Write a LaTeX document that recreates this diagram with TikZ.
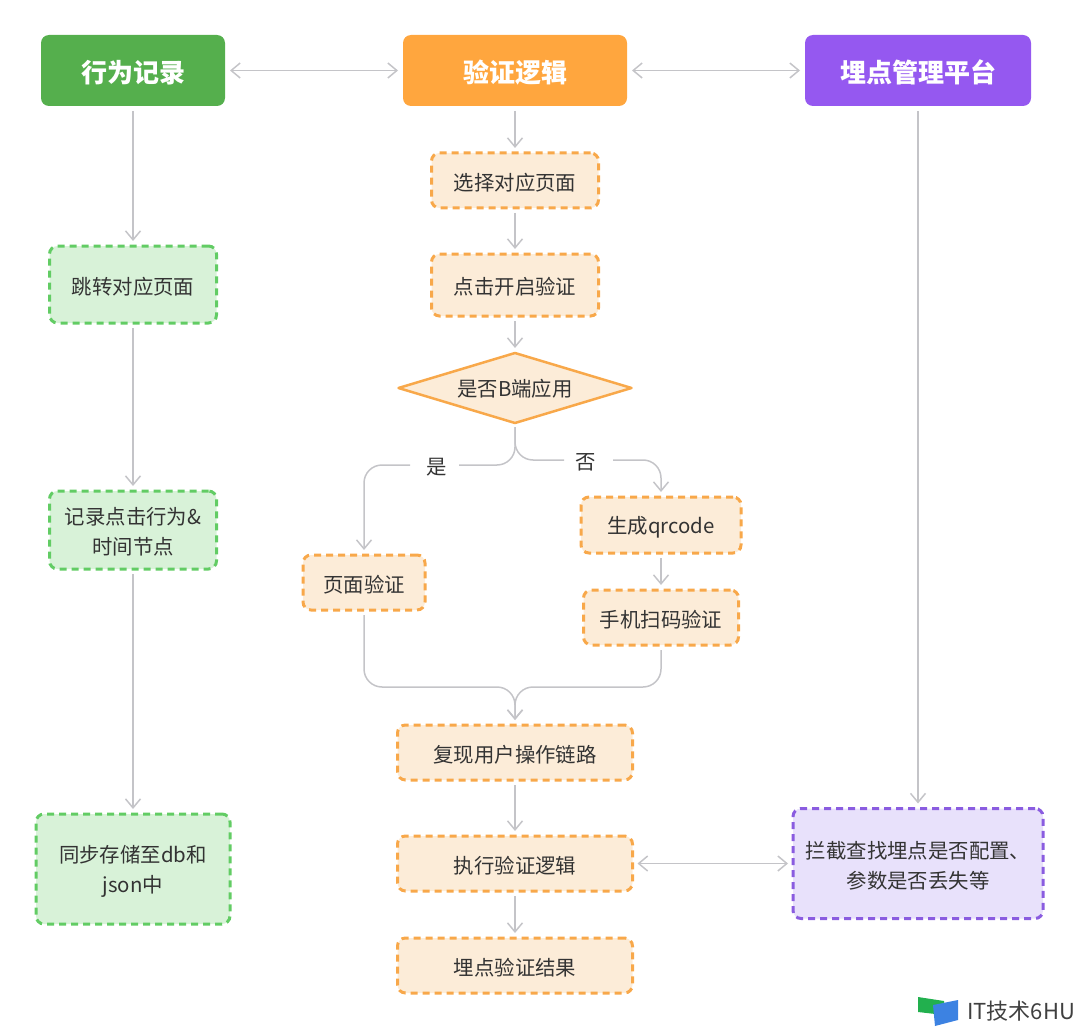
\documentclass[tikz,border=0pt]{standalone}
\usepackage{fontspec}
\setmainfont{Noto Sans CJK SC}
\usetikzlibrary{arrows.meta,shapes.geometric}
\definecolor{linegray}{HTML}{C4C4C8}
\definecolor{txtgray}{HTML}{333333}
\definecolor{headgreen}{HTML}{55AF4D}
\definecolor{headorange}{HTML}{FFA63E}
\definecolor{headpurple}{HTML}{9558F0}
\definecolor{greenline}{HTML}{62CC64}
\definecolor{greenfill}{HTML}{D8F2D8}
\definecolor{orangeline}{HTML}{F8A84A}
\definecolor{orangefill}{HTML}{FCECD8}
\definecolor{purpleline}{HTML}{8A5CE0}
\definecolor{purplefill}{HTML}{E8E1FB}
\definecolor{logogreen}{HTML}{22B04E}
\definecolor{logoblue}{HTML}{3C82E2}
\tikzset{
    headbox/.style={rectangle, rounded corners=8pt, draw=none, inner sep=0pt, outer sep=0pt,
        minimum height=71pt, text=white, text height=27pt, font=\fontsize{26}{30}\selectfont\bfseries},
    stepbox/.style={rectangle, rounded corners=8pt, line width=3pt, dash pattern=on 7pt off 5pt,
        inner sep=0pt, outer sep=0pt, text=txtgray, align=center, text height=21pt,
        font=\fontsize{20.4}{30}\selectfont},
    twolines/.style={text height=51pt},
    greenbox/.style={stepbox, draw=greenline, fill=greenfill},
    orangebox/.style={stepbox, draw=orangeline, fill=orangefill},
    purplebox/.style={stepbox, draw=purpleline, fill=purplefill},
    tipped/.style={-{Straight Barb[length=9pt,width=15pt,line width=1.5pt]}},
    link/.style={draw=linegray, line width=1.5pt, tipped, shorten <=5pt, shorten >=5pt},
    linkboth/.style={link, {Straight Barb[length=9pt,width=15pt,line width=1.5pt]}-{Straight Barb[length=9pt,width=15pt,line width=1.5pt]}},
    wire/.style={draw=linegray, line width=1.5pt, rounded corners=18pt},
    choice/.style={inner sep=0pt, outer sep=0pt, minimum width=44pt, minimum height=24pt, text=txtgray,
        text height=21pt, font=\fontsize{20.4}{24}\selectfont},
}
\begin{document}
\begin{tikzpicture}[x=1pt,y=-1pt]
\useasboundingbox (0,0) rectangle (1080,1030);

% Column heads
\node[headbox, fill=headgreen, minimum width=184pt] (act) at (133,70.5) {行为记录};
\node[headbox, fill=headorange, minimum width=224pt] (verify) at (515,70.5) {验证逻辑};
\node[headbox, fill=headpurple, minimum width=226pt] (track) at (918,70.5) {埋点管理平台};

% Left column
\node[greenbox, minimum width=167pt, minimum height=77pt] (jump) at (133,284.5) {跳转对应页面};
\node[greenbox, twolines, minimum width=167pt, minimum height=78pt] (record) at (133,530) {记录点击行为\&\\时间节点};
\node[greenbox, twolines, minimum width=194pt, minimum height=110pt] (store) at (133,869) {同步存储至db和\\json中};

% Middle column
\node[orangebox, minimum width=167pt, minimum height=55pt] (pick) at (515,180.5) {选择对应页面};
\node[orangebox, minimum width=167pt, minimum height=62pt] (start) at (515,285) {点击开启验证};
\node[diamond, draw=orangeline, fill=orangefill, line width=2.5pt, line join=round, aspect=3.26,
    inner sep=0pt, outer sep=0pt, minimum width=233pt, minimum height=70pt, text=txtgray,
    text height=19pt, font=\fontsize{20.4}{24}\selectfont] (isb) at (515,388) {是否B端应用};
\node[orangebox, minimum width=122pt, minimum height=55pt] (pageck) at (364,582.5) {页面验证};
\node[orangebox, minimum width=160pt, minimum height=56pt] (qr) at (661,525) {生成qrcode};
\node[orangebox, minimum width=155pt, minimum height=55pt] (scan) at (661,617.5) {手机扫码验证};
\node[orangebox, minimum width=235pt, minimum height=55pt] (replay) at (515,752.5) {复现用户操作链路};
\node[orangebox, minimum width=235pt, minimum height=55pt] (run) at (515,863.5) {执行验证逻辑};
\node[orangebox, minimum width=235pt, minimum height=55pt] (result) at (515,965.5) {埋点验证结果};

% Right column
\node[purplebox, twolines, minimum width=250pt, minimum height=110pt] (catch) at (918,863.5) {拦截查找埋点是否配置、\\参数是否丢失等};

% Branch labels and merge point
\node[choice] (yes) at (437,465) {是};
\node[choice] (no) at (586,460) {否};
\coordinate (merge) at (515,687);

% Straight connectors
\foreach \a/\b in {act/jump, jump/record, record/store, track/catch, verify/pick, pick/start, start/isb, qr/scan, replay/run, run/result} {
    \draw[link] (\a) -- (\b);
}
\draw[linkboth] (act) -- (verify);
\draw[linkboth] (verify) -- (track);
\draw[linkboth] (run) -- (catch);

% Branches out of the diamond
\draw[wire, shorten <=4pt] (isb.south) |- (yes.east);
\draw[wire, link] (yes.west) -| (pageck.north);
\draw[wire, shorten <=4pt] (isb.south) |- (no.west);
\draw[wire, link] (no.east) -| (qr.north);

% Branches back together
\draw[wire, link] (pageck.south) |- (merge) -- (replay.north);
\draw[wire, link] (scan.south) |- (merge) -- (replay.north);

% Watermark
\fill[logogreen] (918,997) -- (944,1001) -- (944,1015) -- (918,1012) -- cycle;
\fill[logoblue] (933,1005) -- (958,1000) -- (958,1020) -- (935,1026) -- cycle;
\node[anchor=west, inner sep=0pt, text=black!75, font=\fontsize{22}{26}\selectfont] (mark) at (967,1011) {IT技术6HU};
\end{tikzpicture}
\end{document}
